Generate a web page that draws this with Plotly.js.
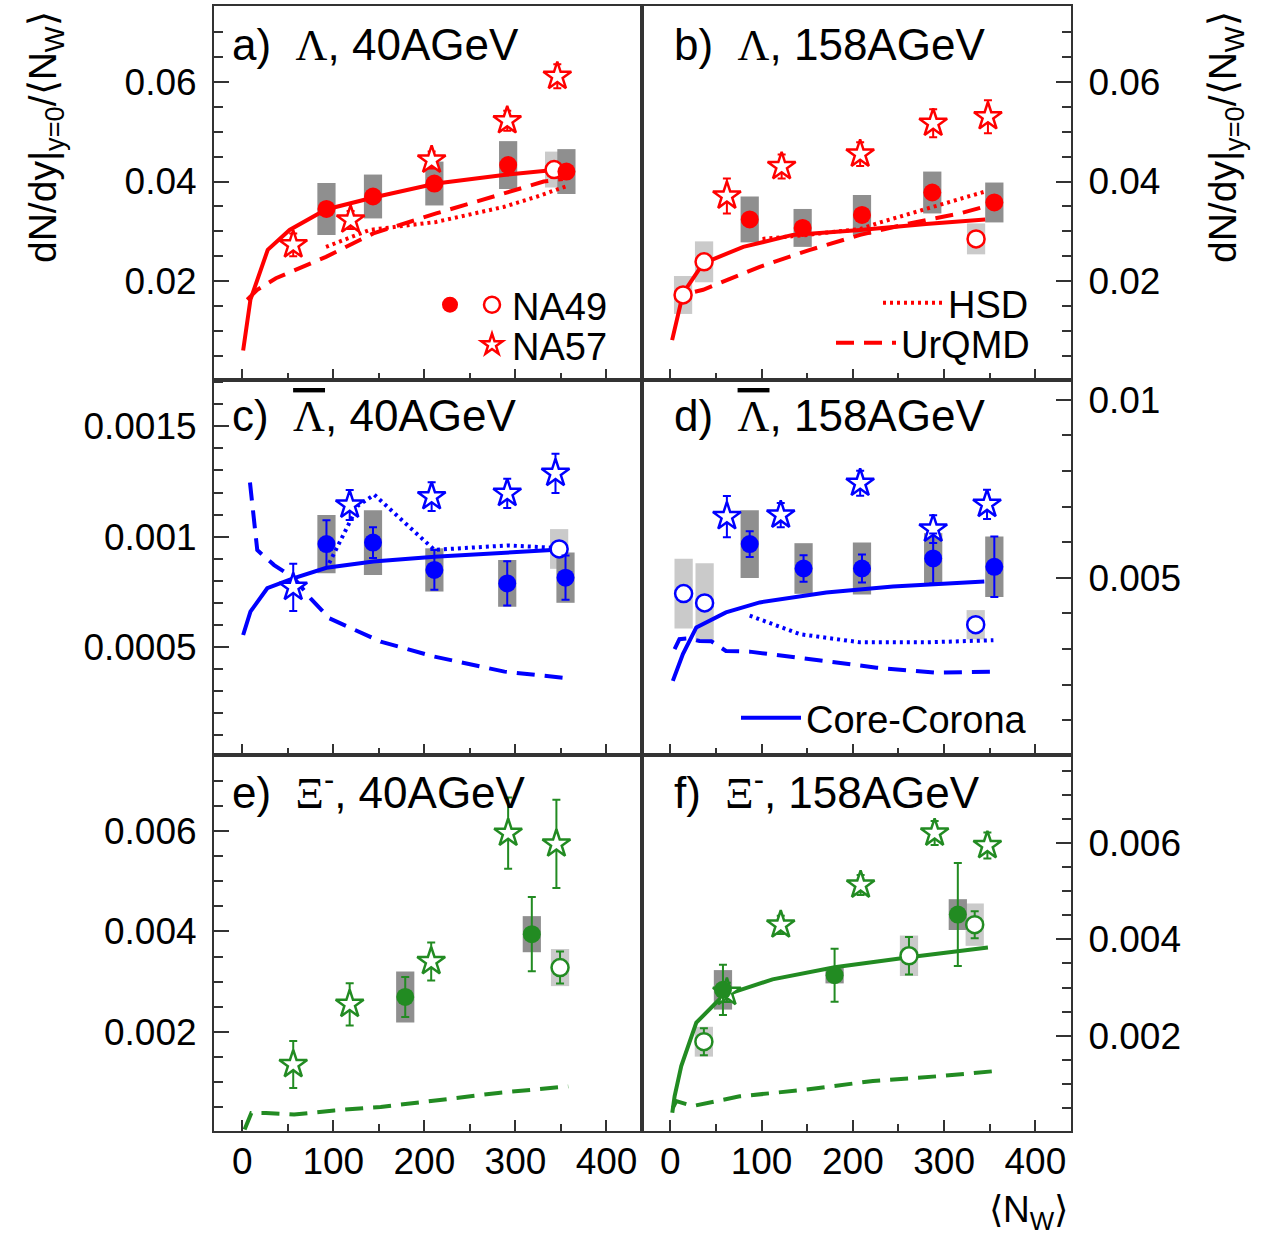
<!DOCTYPE html>
<html><head><meta charset="utf-8">
<script src="https://cdn.plot.ly/plotly-3.0.1.min.js"></script>
<style>html,body{margin:0;padding:0;background:#fff;}#chart{width:1268px;height:1237px;}</style>
</head><body><div id="chart"></div>
<script>
// ---------------- data ----------------
// x = <N_W>
// Panel a: Lambda 40 AGeV
const aClosedN = [92.5, 143.6, 211, 292, 356];
const aClosedY = [0.0345, 0.0370, 0.0396, 0.0433, 0.0420];
const aClosedSys = [0.0052, 0.0044, 0.0044, 0.0048, 0.0045];
const aClosedStat = [0.0008, 0.0008, 0.0008, 0.0009, 0.0009];
const aOpenN = [342.5];
const aOpenY = [0.0424];
const aOpenSys = [0.0036];
const aOpenStat = [0.0008];
const aNa57N = [56, 119, 208, 291, 346];
const aNa57Y = [0.0273, 0.0323, 0.0443, 0.0522, 0.0611];
const aNa57Err = [0.0023, 0.0018, 0.0017, 0.0020, 0.0024];
const aCcN = [1, 9, 28, 52, 92, 144, 213, 287, 342];
const aCcY = [0.0061, 0.0163, 0.0263, 0.0303, 0.0344, 0.0368, 0.0396, 0.0413, 0.0423];
const aUrqN = [5.5, 16.5, 37, 92, 144, 213, 287, 331, 352];
const aUrqY = [0.0163, 0.0183, 0.0206, 0.0249, 0.0296, 0.0336, 0.0376, 0.0400, 0.0405];
const aHsdN = [92, 140, 213, 250, 287, 324, 355];
const aHsdY = [0.0269, 0.0303, 0.0319, 0.0333, 0.0349, 0.0370, 0.0390];

// Panel b: Lambda 158 AGeV
const bClosedN = [87, 145, 210, 287, 355];
const bClosedY = [0.0324, 0.0307, 0.0333, 0.0378, 0.0358];
const bClosedSys = [0.0046, 0.0038, 0.0040, 0.0042, 0.0040];
const bClosedStat = [0.0008, 0.0008, 0.0008, 0.0008, 0.0011];
const bOpenN = [14, 37, 335];
const bOpenY = [0.01725, 0.0239, 0.0285];
const bOpenSys = [0.0038, 0.0041, 0.0031];
const bOpenStat = [0.0008, 0.0008, 0.0008];
const bNa57N = [62, 122, 208, 288, 348];
const bNa57Y = [0.0371, 0.0430, 0.0455, 0.0517, 0.0530];
const bNa57Err = [0.0035, 0.0024, 0.0024, 0.0028, 0.0033];
const bCcN = [2, 14, 36, 80, 134, 208, 280, 345];
const bCcY = [0.0082, 0.0176, 0.0236, 0.0269, 0.0293, 0.0303, 0.0315, 0.0324];
const bUrqN = [27, 36, 98, 153, 208, 262, 317, 345];
const bUrqY = [0.0179, 0.0183, 0.0229, 0.0263, 0.0293, 0.0316, 0.0336, 0.0350];
const bHsdN = [101, 150, 208, 230, 280, 345];
const bHsdY = [0.0285, 0.0293, 0.0305, 0.0318, 0.0345, 0.0380];

// Panel c: anti-Lambda 40 AGeV
const cClosedN = [92.5, 143.6, 211, 291, 355];
const cClosedY = [0.000966, 0.000973, 0.000849, 0.000788, 0.000814];
const cClosedSys = [0.000132, 0.000147, 0.000098, 0.000106, 0.000114];
const cClosedStat = [0.000108, 0.00007, 0.00009, 0.0001, 0.0001];
const cOpenN = [348];
const cOpenY = [0.000944];
const cOpenSys = [0.00009];
const cOpenStat = [0.00003];
const cNa57N = [56, 118, 208, 291, 344];
const cNa57Y = [0.00077, 0.001143, 0.001181, 0.001196, 0.001287];
const cNa57Err = [0.000107, 0.000068, 0.000065, 0.000066, 0.000089];
const cCcN = [1, 9, 27.5, 56, 92.5, 144, 211, 292, 340];
const cCcY = [0.000554, 0.00066, 0.000766, 0.000811, 0.000859, 0.000887, 0.000909, 0.000927, 0.000939];
const cUrqN = [8.5, 16.5, 35, 57, 75, 95.5, 152, 211, 288, 358];
const cUrqY = [0.001245, 0.000939, 0.000871, 0.000811, 0.00072, 0.00063, 0.000524, 0.000456, 0.000388, 0.000358];
const cHsdN = [95.5, 127, 145, 211, 292, 340];
const cHsdY = [0.00088, 0.00114, 0.00119, 0.00094, 0.00096, 0.00095];

// Panel d: anti-Lambda 158 AGeV
const dClosedN = [87, 146, 210, 288, 355];
const dClosedY = [0.005946, 0.005262, 0.005262, 0.005543, 0.00531];
const dClosedSys = [0.00095, 0.00071, 0.00073, 0.00071, 0.00085];
const dClosedStat = [0.00036, 0.00037, 0.00039, 0.0007, 0.00085];
const dOpenN = [14.6, 37.6, 334.6];
const dOpenY = [0.004558, 0.004296, 0.003685];
const dOpenSys = [0.00098, 0.00111, 0.00041];
const dOpenStat = [0.0002, 0.0002, 0.0002];
const dNa57N = [62, 121, 208, 288, 347];
const dNa57Y = [0.006717, 0.006762, 0.007655, 0.006368, 0.007064];
const dNa57Err = [0.00058, 0.00034, 0.00035, 0.00039, 0.00041];
const dCcN = [2.8, 13.8, 28.5, 61, 98, 171, 244, 344];
const dCcY = [0.00211, 0.00286, 0.00361, 0.00403, 0.00431, 0.00459, 0.00476, 0.0049];
const dUrqN = [4.7, 10, 20, 32, 45, 61, 87, 153, 226, 291, 359];
const dUrqY = [0.0030, 0.00328, 0.00330, 0.00323, 0.00322, 0.00295, 0.00293, 0.00272, 0.00248, 0.00234, 0.00237];
const dHsdN = [87, 142, 208, 280, 354];
const dHsdY = [0.00394, 0.00342, 0.00319, 0.00319, 0.00325];

// Panel e: Xi- 40 AGeV
const eClosedN = [179, 318];
const eClosedY = [0.002694, 0.003946];
const eClosedSys = [0.00051, 0.00036];
const eClosedStat = [0.0004, 0.00074];
const eOpenN = [349];
const eOpenY = [0.00328];
const eOpenSys = [0.00037];
const eOpenStat = [0.00032];
const eNa57N = [56, 118, 207.5, 292, 345];
const eNa57Y = [0.001346, 0.002546, 0.0034, 0.00596, 0.005746];
const eNa57Err = [0.00047, 0.00042, 0.00038, 0.00071, 0.00088];
const eUrqN = [2.6, 10, 26, 57, 101, 152, 204, 281, 358];
const eUrqY = [0.00005, 0.00038, 0.00038, 0.00035, 0.00043, 0.0005, 0.00061, 0.00078, 0.00091];

// Panel f: Xi- 158 AGeV
const fClosedN = [57.7, 180, 315];
const fClosedY = [0.002952, 0.003256, 0.004515];
const fClosedSys = [0.00041, 0.00017, 0.00032];
const fClosedStat = [0.00052, 0.00055, 0.00107];
const fOpenN = [36.8, 261.5, 333.5];
const fOpenY = [0.001875, 0.00366, 0.004306];
const fOpenSys = [0.00031, 0.00042, 0.00044];
const fOpenStat = [0.00028, 0.00039, 0.00028];
const fNa57N = [62, 121, 208.5, 289.6, 347.4];
const fNa57Y = [0.0029, 0.0043, 0.00513, 0.00621, 0.00595];
const fNa57Err = [0.0002, 0.00019, 0.00021, 0.00025, 0.00027];
const fCcN = [2.2, 4.7, 12, 28.5, 57.7, 112, 180, 261.5, 348];
const fCcY = [0.0004, 0.00074, 0.00137, 0.00227, 0.00283, 0.00317, 0.00342, 0.00363, 0.00383];
const fUrqN = [2.8, 6.6, 24.8, 76, 149, 222, 295, 359];
const fUrqY = [0.0005, 0.00064, 0.00054, 0.00074, 0.00088, 0.00106, 0.00116, 0.00127];

// tick labels
const xTickVals = [0, 100, 200, 300, 400];
const xTickText = ['0', '100', '200', '300', '400'];
const yTickValsAB = [0.02, 0.04, 0.06];
const yTickTextAB = ['0.02', '0.04', '0.06'];
const yTickValsC = [0.0005, 0.001, 0.0015];
const yTickTextC = ['0.0005', '0.001', '0.0015'];
const yTickValsD = [0.005, 0.01];
const yTickTextD = ['0.005', '0.01'];
const yTickValsEF = [0.002, 0.004, 0.006];
const yTickTextEF = ['0.002', '0.004', '0.006'];

// panel labels
const panelLabels = ['a)', 'b)', 'c)', 'd)', 'e)', 'f)'];
const panelParticles = ['Λ', 'Λ', 'Λ', 'Λ', 'Ξ', 'Ξ'];
const panelEnergies = ['40AGeV', '158AGeV', '40AGeV', '158AGeV', '40AGeV', '158AGeV'];

// ---------------- styling ----------------
const W = 1268, H = 1237;
const FONT = 'Liberation Sans, Arial, Helvetica, sans-serif';
const SERIF = 'Liberation Serif, Times New Roman, serif';
const RED = '#ff0000', BLUE = '#0000ff', GREEN = '#228b22';
const DARKBOX = '#8f8f8f', LIGHTBOX = '#cacaca';
const px = v => v / W;
const py = v => 1 - v / H;

const traces = [];
function boxTrace(N, Y, S, col, xa, ya) {
  traces.push({type: 'bar', x: N, y: S.map(s => 2 * s), base: Y.map((y, i) => y - S[i]),
    width: 20, marker: {color: col, line: {width: 0}}, xaxis: xa, yaxis: ya,
    showlegend: false, hoverinfo: 'skip'});
}
function lineTrace(N, Y, dash, col, xa, ya, name, legend) {
  const t = {type: 'scatter', mode: 'lines', x: N, y: Y, xaxis: xa, yaxis: ya,
    line: {color: col, width: 4, dash: dash === 'dot' ? '3px,4px' : (dash === 'dash' ? '18px,10px' : 'solid')},
    showlegend: !!legend, name: name || '', hoverinfo: 'skip'};
  if (legend) t.legend = legend;
  traces.push(t);
}
function markTrace(N, Y, E, kind, col, xa, ya, name, legend) {
  let marker;
  if (kind === 'closed') marker = {symbol: 'circle', size: 18, color: col, line: {width: 0}};
  else if (kind === 'open') marker = {symbol: 'circle', size: 17, color: '#ffffff', line: {color: col, width: 2.5}};
  else marker = {symbol: 'star', size: 21, color: '#ffffff', line: {color: col, width: 2.5}};
  const t = {type: 'scatter', mode: 'markers', x: N, y: Y, xaxis: xa, yaxis: ya, marker: marker,
    error_y: {type: 'data', array: E, visible: true, color: col, thickness: 2, width: 4},
    showlegend: !!legend, name: name || '', hoverinfo: 'skip'};
  if (legend) t.legend = legend;
  traces.push(t);
}

// Panel a
boxTrace(aOpenN, aOpenY, aOpenSys, LIGHTBOX, 'x', 'y');
boxTrace(aClosedN, aClosedY, aClosedSys, DARKBOX, 'x', 'y');
lineTrace(aHsdN, aHsdY, 'dot', RED, 'x', 'y');
lineTrace(aUrqN, aUrqY, 'dash', RED, 'x', 'y');
lineTrace(aCcN, aCcY, 'solid', RED, 'x', 'y');
markTrace(aNa57N, aNa57Y, aNa57Err, 'star', RED, 'x', 'y', 'NA57', 'legend3');
markTrace(aOpenN, aOpenY, aOpenStat, 'open', RED, 'x', 'y', 'NA49', 'legend2');
markTrace(aClosedN, aClosedY, aClosedStat, 'closed', RED, 'x', 'y', ' ', 'legend');
// Panel b
boxTrace(bOpenN, bOpenY, bOpenSys, LIGHTBOX, 'x2', 'y2');
boxTrace(bClosedN, bClosedY, bClosedSys, DARKBOX, 'x2', 'y2');
lineTrace(bHsdN, bHsdY, 'dot', RED, 'x2', 'y2', 'HSD', 'legend4');
lineTrace(bUrqN, bUrqY, 'dash', RED, 'x2', 'y2', 'UrQMD', 'legend5');
lineTrace(bCcN, bCcY, 'solid', RED, 'x2', 'y2');
markTrace(bNa57N, bNa57Y, bNa57Err, 'star', RED, 'x2', 'y2');
markTrace(bOpenN, bOpenY, bOpenStat, 'open', RED, 'x2', 'y2');
markTrace(bClosedN, bClosedY, bClosedStat, 'closed', RED, 'x2', 'y2');
// Panel c
boxTrace(cOpenN, cOpenY, cOpenSys, LIGHTBOX, 'x3', 'y3');
boxTrace(cClosedN, cClosedY, cClosedSys, DARKBOX, 'x3', 'y3');
lineTrace(cHsdN, cHsdY, 'dot', BLUE, 'x3', 'y3');
lineTrace(cUrqN, cUrqY, 'dash', BLUE, 'x3', 'y3');
lineTrace(cCcN, cCcY, 'solid', BLUE, 'x3', 'y3');
markTrace(cNa57N, cNa57Y, cNa57Err, 'star', BLUE, 'x3', 'y3');
markTrace(cOpenN, cOpenY, cOpenStat, 'open', BLUE, 'x3', 'y3');
markTrace(cClosedN, cClosedY, cClosedStat, 'closed', BLUE, 'x3', 'y3');
// Panel d
boxTrace(dOpenN, dOpenY, dOpenSys, LIGHTBOX, 'x4', 'y4');
boxTrace(dClosedN, dClosedY, dClosedSys, DARKBOX, 'x4', 'y4');
lineTrace(dHsdN, dHsdY, 'dot', BLUE, 'x4', 'y4');
lineTrace(dUrqN, dUrqY, 'dash', BLUE, 'x4', 'y4');
lineTrace(dCcN, dCcY, 'solid', BLUE, 'x4', 'y4', 'Core-Corona', 'legend6');
markTrace(dNa57N, dNa57Y, dNa57Err, 'star', BLUE, 'x4', 'y4');
markTrace(dOpenN, dOpenY, dOpenStat, 'open', BLUE, 'x4', 'y4');
markTrace(dClosedN, dClosedY, dClosedStat, 'closed', BLUE, 'x4', 'y4');
// Panel e
boxTrace(eOpenN, eOpenY, eOpenSys, LIGHTBOX, 'x5', 'y5');
boxTrace(eClosedN, eClosedY, eClosedSys, DARKBOX, 'x5', 'y5');
lineTrace(eUrqN, eUrqY, 'dash', GREEN, 'x5', 'y5');
markTrace(eNa57N, eNa57Y, eNa57Err, 'star', GREEN, 'x5', 'y5');
markTrace(eOpenN, eOpenY, eOpenStat, 'open', GREEN, 'x5', 'y5');
markTrace(eClosedN, eClosedY, eClosedStat, 'closed', GREEN, 'x5', 'y5');
// Panel f
boxTrace(fOpenN, fOpenY, fOpenSys, LIGHTBOX, 'x6', 'y6');
boxTrace(fClosedN, fClosedY, fClosedSys, DARKBOX, 'x6', 'y6');
lineTrace(fUrqN, fUrqY, 'dash', GREEN, 'x6', 'y6');
lineTrace(fCcN, fCcY, 'solid', GREEN, 'x6', 'y6');
markTrace(fNa57N, fNa57Y, fNa57Err, 'star', GREEN, 'x6', 'y6');
markTrace(fOpenN, fOpenY, fOpenStat, 'open', GREEN, 'x6', 'y6');
markTrace(fClosedN, fClosedY, fClosedStat, 'closed', GREEN, 'x6', 'y6');

// ---------------- axes ----------------
const colL = [px(214), px(642)], colR = [px(642), px(1071)];
const row1 = [py(380), py(6)], row2 = [py(755), py(380)], row3 = [py(1131), py(755)];
const XR = [-31, 439];
function xAxis(dom, anchor, labels) {
  return {domain: dom, anchor: anchor, range: XR, showline: true, mirror: true, linecolor: '#333', linewidth: 2,
    zeroline: false, showgrid: false, ticks: 'inside', ticklen: 11, tickwidth: 2, tickcolor: '#333',
    tickmode: 'array', tickvals: xTickVals, ticktext: xTickText, showticklabels: labels,
    ticklabelstandoff: -3, tickfont: {family: FONT, size: 37, color: '#000'},
    minor: {tickmode: 'linear', tick0: 0, dtick: 50, ticks: 'inside', ticklen: 7, tickwidth: 2, tickcolor: '#333', showgrid: false},
    fixedrange: true, automargin: false};
}
function yAxis(dom, anchor, side, range, tv, tt, mdt) {
  return {domain: dom, anchor: anchor, side: side, range: range, showline: true, mirror: true, linecolor: '#333', linewidth: 2,
    zeroline: false, showgrid: false, ticks: 'inside', ticklen: 15, tickwidth: 2, tickcolor: '#333',
    tickmode: 'array', tickvals: tv, ticktext: tt, ticklabelstandoff: 8,
    tickfont: {family: FONT, size: 37, color: '#000'},
    minor: {tickmode: 'linear', tick0: 0, dtick: mdt, ticks: 'inside', ticklen: 9, tickwidth: 2, tickcolor: '#333', showgrid: false},
    fixedrange: true, automargin: false};
}

function title(i, xpix, ypix) {
  let part = '<span style="font-family:' + SERIF + (i === 2 || i === 3 ? ';text-decoration:overline' : '') + '">' + panelParticles[i] + '</span>';
  if (i >= 4) part += '<sup>-</sup>';
  return {xref: 'paper', yref: 'paper', x: px(xpix), y: py(ypix), xanchor: 'left', yanchor: 'middle', showarrow: false,
    text: panelLabels[i] + '\u00a0\u00a0' + part + ', ' + panelEnergies[i], font: {family: FONT, size: 44, color: '#000'}};
}
const yTitle = 'dN/dy|<sub>y=0</sub>/⟨N<sub>W</sub>⟩';
const annotations = [
  title(0, 230, 45), title(1, 672, 45), title(2, 230, 416), title(3, 672, 416), title(4, 230, 790), title(5, 672, 790),
  {xref: 'paper', yref: 'paper', x: px(45), y: py(137), xanchor: 'center', yanchor: 'middle', textangle: -90, showarrow: false,
    text: yTitle, font: {family: FONT, size: 39, color: '#000'}},
  {xref: 'paper', yref: 'paper', x: px(1225), y: py(137), xanchor: 'center', yanchor: 'middle', textangle: -90, showarrow: false,
    text: yTitle, font: {family: FONT, size: 39, color: '#000'}},
  {xref: 'paper', yref: 'paper', x: px(1028), y: py(1212), xanchor: 'center', yanchor: 'middle', showarrow: false,
    text: '⟨N<sub>W</sub>⟩', font: {family: FONT, size: 37, color: '#000'}}
];

function leg(xpix, ypix, iw) {
  return {x: px(xpix), y: py(ypix), xanchor: 'left', yanchor: 'middle', bgcolor: 'rgba(0,0,0,0)', borderwidth: 0,
    font: {family: FONT, size: 38, color: '#000'}, itemwidth: iw || 30, itemclick: false, itemdoubleclick: false};
}

const layout = {
  width: W, height: H, margin: {l: 0, r: 0, t: 0, b: 0}, paper_bgcolor: '#fff', plot_bgcolor: '#fff',
  barmode: 'overlay', hovermode: false, showlegend: true,
  xaxis: xAxis(colL, 'y', false), yaxis: yAxis(row1, 'x', 'left', [0.0002, 0.0752], yTickValsAB, yTickTextAB, 0.005),
  xaxis2: xAxis(colR, 'y2', false), yaxis2: yAxis(row1, 'x2', 'right', [0.0002, 0.0752], yTickValsAB, yTickTextAB, 0.005),
  xaxis3: xAxis(colL, 'y3', false), yaxis3: yAxis(row2, 'x3', 'left', [0.00001, 0.00171], yTickValsC, yTickTextC, 0.0001),
  xaxis4: xAxis(colR, 'y4', false), yaxis4: yAxis(row2, 'x4', 'right', [0.00003, 0.01055], yTickValsD, yTickTextD, 0.001),
  xaxis5: xAxis(colL, 'y5', true), yaxis5: yAxis(row3, 'x5', 'left', [0.00002, 0.00752], yTickValsEF, yTickTextEF, 0.0005),
  xaxis6: xAxis(colR, 'y6', true), yaxis6: yAxis(row3, 'x6', 'right', [0.00002, 0.00783], yTickValsEF, yTickTextEF, 0.0005),
  legend: leg(430, 305), legend2: leg(472, 305), legend3: leg(472, 345),
  legend4: leg(878, 303, 60), legend5: leg(831, 343, 60), legend6: leg(736, 718, 60),
  annotations: annotations
};

Plotly.newPlot('chart', traces, layout, {displayModeBar: false, staticPlot: true});
</script></body></html>
